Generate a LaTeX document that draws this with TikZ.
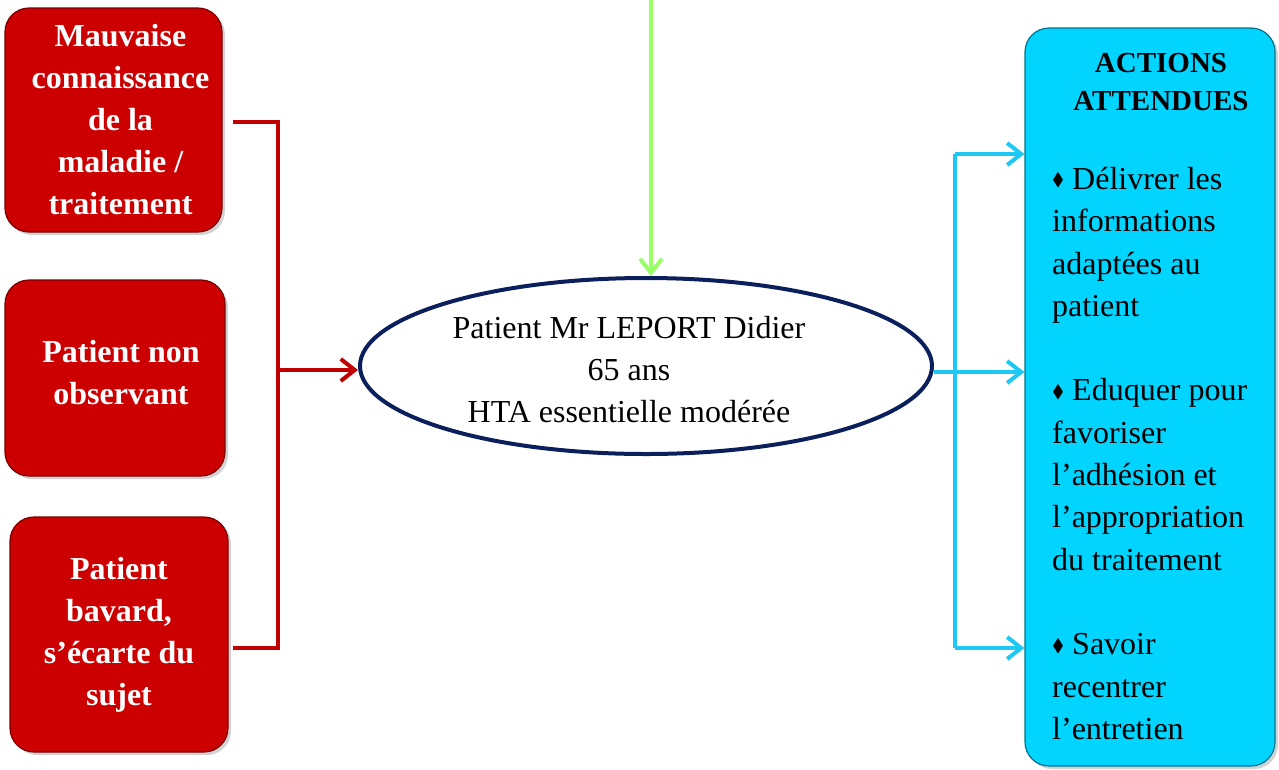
\documentclass[tikz,border=0pt]{standalone}
\usepackage{fontspec}
\setmainfont{Liberation Serif}
\usepackage{amssymb}
\usetikzlibrary{arrows.meta,positioning,shapes.geometric,shadows}
\definecolor{causered}{HTML}{CC0000}
\definecolor{linkred}{HTML}{C00000}
\definecolor{patnavy}{HTML}{0A1F5C}
\definecolor{inflow}{HTML}{99FF66}
\definecolor{actcyan}{HTML}{00D4FF}
\definecolor{actline}{HTML}{1EC8F5}
\newcommand{\actbullet}{\raisebox{3.5pt}{\fontsize{18}{18}\selectfont$\blacklozenge$}}

\begin{document}
\begin{tikzpicture}[x=1pt,y=-1pt,
  >={Straight Barb[length=14pt,width=22pt]},
  cause/.style={fill=causered,draw=causered!60!black,line width=1.2pt,
    rounded corners=24pt,inner sep=0pt,align=center,text=white,
    font=\fontsize{32}{42}\selectfont\bfseries,
    drop shadow={shadow xshift=3pt,shadow yshift=-3pt,opacity=.35}},
  actbox/.style={fill=actcyan,draw=actcyan!55!black,line width=1.2pt,
    rounded corners=24pt,inner sep=0pt,
    drop shadow={shadow xshift=3pt,shadow yshift=-3pt,opacity=.35}},
  link/.style={line width=4pt}
]
  \useasboundingbox (0,0) rectangle (1279,769);

  % causes
  \node[cause,minimum width=217pt,minimum height=224pt] (mauvaise) at (113.5,120)
    {\hspace*{14pt}Mauvaise\\\hspace*{14pt}connaissance\\\hspace*{14pt}de la\\
     \hspace*{14pt}maladie /\\\hspace*{14pt}traitement};
  \node[cause,minimum width=220pt,minimum height=196pt] (nonobs) at (115,378)
    {\hspace*{12pt}Patient non\\\hspace*{12pt}observant\\[-30pt]};
  \node[cause,minimum width=218pt,minimum height=235pt] (bavard) at (119,634.5)
    {Patient\\bavard,\\s’écarte du\\sujet};

  % patient
  \node[ellipse,draw=patnavy,line width=4pt,minimum width=572pt,
    minimum height=176pt,inner sep=0pt] (patient) at (646,366) {};
  \node[align=center,font=\fontsize{32}{42}\selectfont] (patienttxt) at (629,370)
    {Patient Mr LEPORT Didier\\65 ans\\HTA essentielle modérée};

  % actions
  \node[actbox,minimum width=250pt,minimum height=738pt] (actions) at (1150,397) {};
  \node[align=center,font=\fontsize{29}{38}\selectfont\bfseries] (acttitle)
    at (1161,82) {ACTIONS\\ATTENDUES};
  \node[anchor=north west,align=left,inner sep=0pt,
    font=\fontsize{32}{42.3}\selectfont] (actlist) at (1052,167)
    {\actbullet{} Délivrer les\\informations\\adaptées au\\patient\\[42.3pt]
     \actbullet{} Eduquer pour\\favoriser\\l’adhésion et\\l’appropriation\\du traitement\\[42.3pt]
     \actbullet{} Savoir\\recentrer\\l’entretien};

  \coordinate (redjoin) at (278,370);
  \coordinate (greensrc) at (651,0);
  \coordinate (bluejoin) at (955,372);
  \coordinate (bluetop) at (955,154);
  \coordinate (bluebot) at (955,648);

  \draw[link,linkred] ([xshift=10pt,yshift=-2pt]mauvaise.east) -| (redjoin)
    |- ([xshift=4pt,yshift=-13.5pt]bavard.east);
  \draw[link,linkred,->] (redjoin) -- (redjoin -| patient.west);
  \draw[link,inflow,->] (greensrc) -- (greensrc |- patient.north);

  \draw[link,actline,->] (bluejoin -| patient.east) -- (bluejoin -| actions.west);
  \draw[link,actline] (bluetop) -- (bluebot);
  \draw[link,actline,->] (bluetop) -- (bluetop -| actions.west);
  \draw[link,actline,->] (bluebot) -- (bluebot -| actions.west);
\end{tikzpicture}
\end{document}
